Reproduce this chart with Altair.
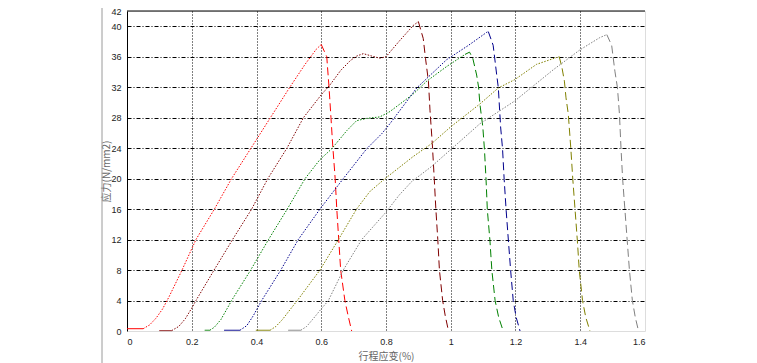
import altair as alt
import pandas as pd

# ---- data ----
series_names = ["S1", "S2", "S3", "S4", "S5", "S6"]
series_colors = ["#ff0000", "#800000", "#008000", "#00008c", "#808000", "#808080"]

red_x = [0, 0.05, 0.07, 0.09, 0.11, 0.13, 0.17, 0.213, 0.27, 0.323, 0.383, 0.443, 0.503, 0.55, 0.585, 0.6,
         0.617, 0.624, 0.63, 0.636, 0.643, 0.648, 0.654, 0.66, 0.673, 0.683, 0.694]
red_y = [0.3, 0.3, 0.8, 1.7, 2.9, 4.5, 8, 12, 16, 20, 24, 28, 32, 35, 37, 37.6,
         36, 32, 28, 24, 20, 16, 12, 8, 4, 2, 0]
red_breaks = (1, 15)

maroon_x = [0.1, 0.138, 0.16, 0.18, 0.2, 0.213, 0.269, 0.326, 0.385, 0.435, 0.494, 0.545, 0.6, 0.627, 0.66, 0.69,
            0.71, 0.73, 0.755, 0.781, 0.8, 0.84, 0.884, 0.9,
            0.915, 0.922, 0.931, 0.936, 0.943, 0.949, 0.954, 0.96, 0.965, 0.975, 0.983, 0.993]
maroon_y = [0.05, 0.05, 0.6, 1.6, 3, 4, 8, 12, 16, 20, 24, 28, 31, 32.3, 34.2, 35.5,
            36.1, 36.4, 36.1, 35.8, 36, 38, 40.1, 40.6,
            38.4, 35.8, 32.8, 28.9, 24.6, 20, 16, 12, 8, 4, 2, 0]
maroon_breaks = (1, 23)

green_x = [0.24, 0.256, 0.27, 0.29, 0.31, 0.323, 0.382, 0.437, 0.495, 0.55, 0.596, 0.632, 0.679, 0.709, 0.74,
           0.781, 0.812, 0.884, 0.926, 0.987, 1.044,
           1.058, 1.068, 1.08, 1.086, 1.09, 1.099, 1.104, 1.109, 1.113, 1.121, 1.127, 1.137, 1.148, 1.162]
green_y = [0.1, 0.1, 0.5, 1.5, 3, 4, 8, 12, 16, 20, 22.5, 23.9, 26.3, 27.6, 27.9,
           28.1, 28.8, 31.1, 32.8, 34.7, 36.3,
           36.6, 35.8, 33.6, 32, 29.8, 26.8, 23.9, 19.9, 15.9, 11.9, 7.95, 4, 1.8, 0]
green_breaks = (1, 20)

blue_x = [0.3, 0.349, 0.37, 0.39, 0.416, 0.475, 0.529, 0.596, 0.668, 0.74, 0.787, 0.812, 0.895, 0.987, 1.055,
          1.111, 1.116,
          1.131, 1.142, 1.147, 1.154, 1.16, 1.165, 1.171, 1.178, 1.185, 1.193, 1.202, 1.214]
blue_y = [0.1, 0.1, 0.7, 2, 4, 8, 12, 16, 20, 23.9, 25.9, 27.2, 31.9, 35.6, 37.5,
          39.2, 39.3,
          37.5, 33.6, 31.9, 26.8, 23.9, 19.9, 15.9, 11.9, 7.95, 4, 1.8, 0]
blue_breaks = (1, 16)

olive_x = [0.398, 0.442, 0.46, 0.48, 0.5, 0.526, 0.596, 0.653, 0.709, 0.75, 0.797, 0.884, 0.941, 1.0, 1.09,
           1.147, 1.198, 1.265, 1.327, 1.335,
           1.343, 1.351, 1.356, 1.363, 1.371, 1.377, 1.384, 1.391, 1.397, 1.407, 1.417, 1.43]
olive_y = [0.1, 0.1, 0.6, 1.5, 2.6, 4, 8, 12, 16, 18.3, 20, 22.9, 24.6, 26.8, 29.8,
           31.9, 33, 35, 35.9, 36,
           34.7, 32.8, 30.6, 28.5, 23.9, 19.9, 15.9, 11.9, 7.95, 4, 1.8, 0]
olive_breaks = (1, 19)

gray_x = [0.498, 0.537, 0.555, 0.575, 0.6, 0.622, 0.668, 0.725, 0.8, 0.84, 0.879, 0.941, 1.09, 1.198, 1.317,
          1.399, 1.46, 1.482,
          1.497, 1.507, 1.515, 1.521, 1.526, 1.531, 1.538, 1.545, 1.552, 1.561, 1.57, 1.58]
gray_y = [0.1, 0.1, 0.6, 1.6, 2.9, 4, 8, 12, 15.6, 17.8, 19.6, 21.6, 27.2, 30.2, 34.3,
          36.9, 38.5, 38.9,
          37.5, 34.1, 31.9, 28.5, 23.9, 19.9, 15.9, 11.9, 7.95, 4, 1.8, 0]
gray_breaks = (1, 17)

x_ticks = [0, 0.2, 0.4, 0.6, 0.8, 1.0, 1.2, 1.4, 1.6]
y_ticks = [0, 4, 8, 12, 16, 20, 24, 28, 32, 36, 40, 42]
x_title = "行程应变(%)"
y_title = "应力(N/mm2)"

# ---- build table ----
all_series = [
    (red_x, red_y, red_breaks),
    (maroon_x, maroon_y, maroon_breaks),
    (green_x, green_y, green_breaks),
    (blue_x, blue_y, blue_breaks),
    (olive_x, olive_y, olive_breaks),
    (gray_x, gray_y, gray_breaks),
]
rows = []
for name, (xs, ys, (b1, b2)) in zip(series_names, all_series):
    parts = [("flat", 0, b1), ("rise", b1, b2), ("fall", b2, len(xs) - 1)]
    for part, a, b in parts:
        for i in range(a, b + 1):
            rows.append({"series": name, "part": part, "grp": name + part,
                         "x": xs[i], "y": ys[i], "order": i})
df = pd.DataFrame(rows)

W, H = 518, 320
LABEL_FONT = "Liberation Sans"
TITLE_FONT = "Noto Sans CJK SC"

x_scale = alt.Scale(domain=[0, 1.6], nice=False, zero=False)
y_scale = alt.Scale(domain=[0, 42], nice=False, zero=False)

lines = alt.Chart(df).mark_line(strokeWidth=1, clip=False).encode(
    x=alt.X("x:Q", scale=x_scale, axis=alt.Axis(
        values=x_ticks, tickCount=20, format="~g", domain=False, ticks=False, labelOverlap=False,
        labelPadding=6, labelFont=LABEL_FONT, labelFontSize=9, labelColor="#222",
        grid=True, gridColor="black", gridDash=[1, 2], gridWidth=1,
        gridOpacity={"condition": {"test": "datum.value <= 0.01 || datum.value >= 1.59", "value": 0}, "value": 1},
        title=x_title, titleFont=TITLE_FONT, titleFontSize=10, titleFontWeight="normal",
        titleColor="#666", titleY=25, titleBaseline="middle")),
    y=alt.Y("y:Q", scale=y_scale, axis=alt.Axis(
        values=y_ticks, tickCount=20, format="~g", domain=True, domainColor="black", domainWidth=1,
        ticks=False, labelOverlap=False,
        labelPadding=6, labelFont=LABEL_FONT, labelFontSize=9, labelColor="#222",
        grid=True, gridColor="black", gridDash=[4, 2, 1, 2], gridWidth=1,
        gridOpacity={"condition": {"test": "datum.value <= 0.01 || datum.value >= 41.9", "value": 0}, "value": 1},
        title=y_title, titleFont=TITLE_FONT, titleFontSize=10, titleFontWeight="normal",
        titleColor="#666", titleX=-21, titleY=H / 2, titleAngle=-90,
        titleAlign="center", titleBaseline="middle")),
    color=alt.Color("series:N", scale=alt.Scale(domain=series_names, range=series_colors), legend=None),
    strokeDash=alt.StrokeDash("part:N", scale=alt.Scale(domain=["flat", "rise", "fall"],
                                                         range=[[1, 0], [1.5, 1.5], [8, 4]]), legend=None),
    detail="grp:N",
    order="order:Q",
)

one = pd.DataFrame({"v": [0]})
top_border = alt.Chart(one).mark_rule(color="black", strokeWidth=1).encode(
    y=alt.datum(42, scale=y_scale), x=alt.datum(0, scale=x_scale), x2=alt.datum(1.6))

frame_line = alt.Chart(one).mark_rule(color="#9a9a9a", strokeWidth=1).encode(
    x=alt.value(-25), y=alt.value(-11), y2=alt.value(352))

chart = alt.layer(lines, top_border, frame_line).properties(
    width=W, height=H,
    autosize=alt.AutoSizeParams(type="none"),
    padding={"left": 119, "top": 3, "right": 104, "bottom": 32},
).configure_view(stroke=None).configure(background="white")

chart.save("out.html", embed_options={"renderer": "svg", "actions": False})
